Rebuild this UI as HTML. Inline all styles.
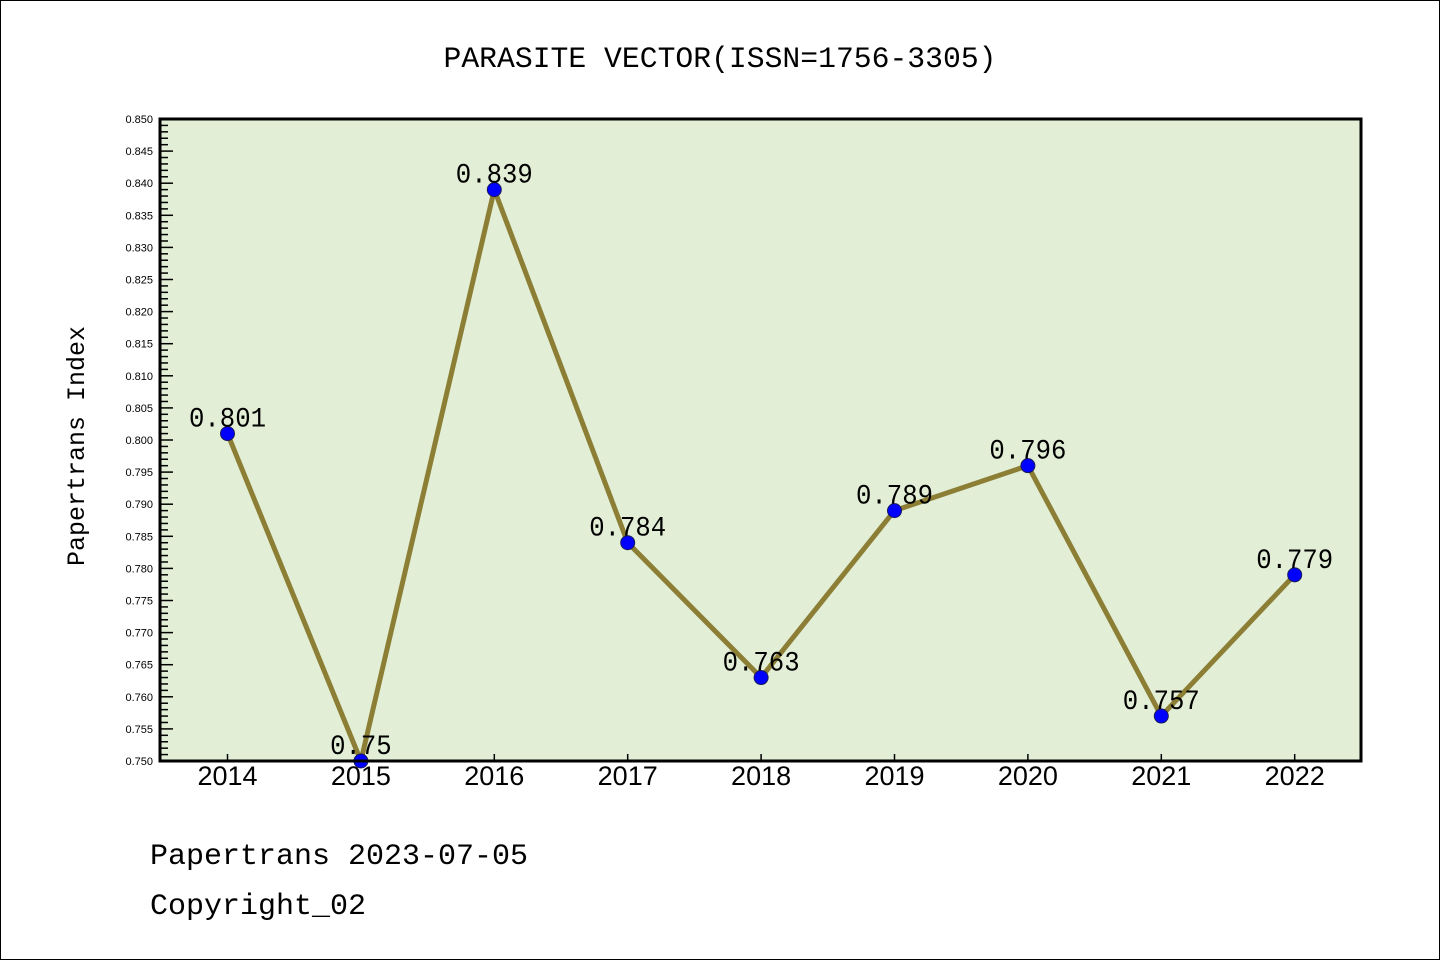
<!DOCTYPE html>
<html><head><meta charset="utf-8"><style>
html,body{margin:0;padding:0;background:#fff;}
svg{display:block;}
.mono{font-family:"Liberation Mono","WenQuanYi Zen Hei",monospace;}
.sans{font-family:"Liberation Sans","DejaVu Sans",sans-serif;}
</style></head><body>
<svg id="chart" width="1440" height="960" xmlns="http://www.w3.org/2000/svg">
<rect x="0.5" y="0.5" width="1439" height="959" fill="#fff" stroke="#000" stroke-width="1"/>
<text x="720" y="67" text-anchor="middle" class="mono" font-size="30" textLength="553" lengthAdjust="spacingAndGlyphs" fill="#000">PARASITE VECTOR(ISSN=1756-3305)</text>
<rect x="160" y="119" width="1201" height="642" fill="#e2efd6"/>
<g id="yaxis"></g>
<g id="xaxis"></g>
<g id="series"></g>
<rect x="160" y="119" width="1201" height="642" fill="none" stroke="#000" stroke-width="3"/>
<text transform="translate(84,446) rotate(-90)" text-anchor="middle" class="mono" font-size="25" fill="#000">Papertrans Index</text>
<text x="150" y="864" class="mono" font-size="30" fill="#000">Papertrans 2023-07-05</text>
<text x="150" y="914" class="mono" font-size="30" fill="#000">Copyright_02</text>
</svg>
<script>
const years = ["2014","2015","2016","2017","2018","2019","2020","2021","2022"];
const values = [0.801,0.75,0.839,0.784,0.763,0.789,0.796,0.757,0.779];
const valueLabels = ["0.801","0.75","0.839","0.784","0.763","0.789","0.796","0.757","0.779"];
const yMin = 0.750, yMax = 0.850;

const NS = "http://www.w3.org/2000/svg";
const X0 = 160, X1 = 1361, Y0 = 761, Y1 = 119;
const xFirst = 227.5, xStep = 133.4;
function xs(i){ return xFirst + i*xStep; }
function ys(v){ return Y0 - (v - yMin)/(yMax - yMin)*(Y0 - Y1); }
function mk(tag, attrs, parent){ const e=document.createElementNS(NS,tag); for(const k in attrs) e.setAttribute(k,attrs[k]); parent.appendChild(e); return e; }

const yg = document.getElementById('yaxis');
for(let k=0;k<=100;k++){
  const v = yMin + k*0.001;
  const y = ys(v);
  const major = k%5===0;
  const t = mk('line',{x1:X0,x2:X0+(major?13:8),y1:y,y2:y,stroke:'#000','stroke-width':1.5},yg);
  
  
  if(major){
    const l = mk('text',{x:X0-7,y:y+4,'text-anchor':'end','font-size':11,class:'sans',fill:'#000'},yg);
    l.textContent = v.toFixed(3);
    
    
  }
}
const xg = document.getElementById('xaxis');
years.forEach((yr,i)=>{
  const x = xs(i);
  const t = mk('line',{x1:x,x2:x,y1:Y0,y2:Y0-7,stroke:'#000','stroke-width':1.5},xg);
  
  
  const l = mk('text',{x:x,y:785,'text-anchor':'middle','font-size':27,class:'sans',fill:'#000'},xg);
  l.textContent = yr;
  
  
});
const sg = document.getElementById('series');
const pts = values.map((v,i)=>xs(i)+','+ys(v)).join(' ');
const line = mk('polyline',{points:pts,fill:'none',stroke:'#8c7f35','stroke-width':5,'stroke-linejoin':'round'},sg);


values.forEach((v,i)=>{
  const c = mk('circle',{cx:xs(i),cy:ys(v),r:7,fill:'#0000ff',stroke:'#1a1a5a','stroke-width':1},sg);
  
  
  const l = mk('text',{x:xs(i),y:ys(v)-7,'text-anchor':'middle','font-size':28,class:'mono',fill:'#000'},sg);
  l.textContent = valueLabels[i];
  l.setAttribute('textLength', valueLabels[i].length*15.4);
  l.setAttribute('lengthAdjust','spacingAndGlyphs');
  
  
});
</script>
</body></html>
